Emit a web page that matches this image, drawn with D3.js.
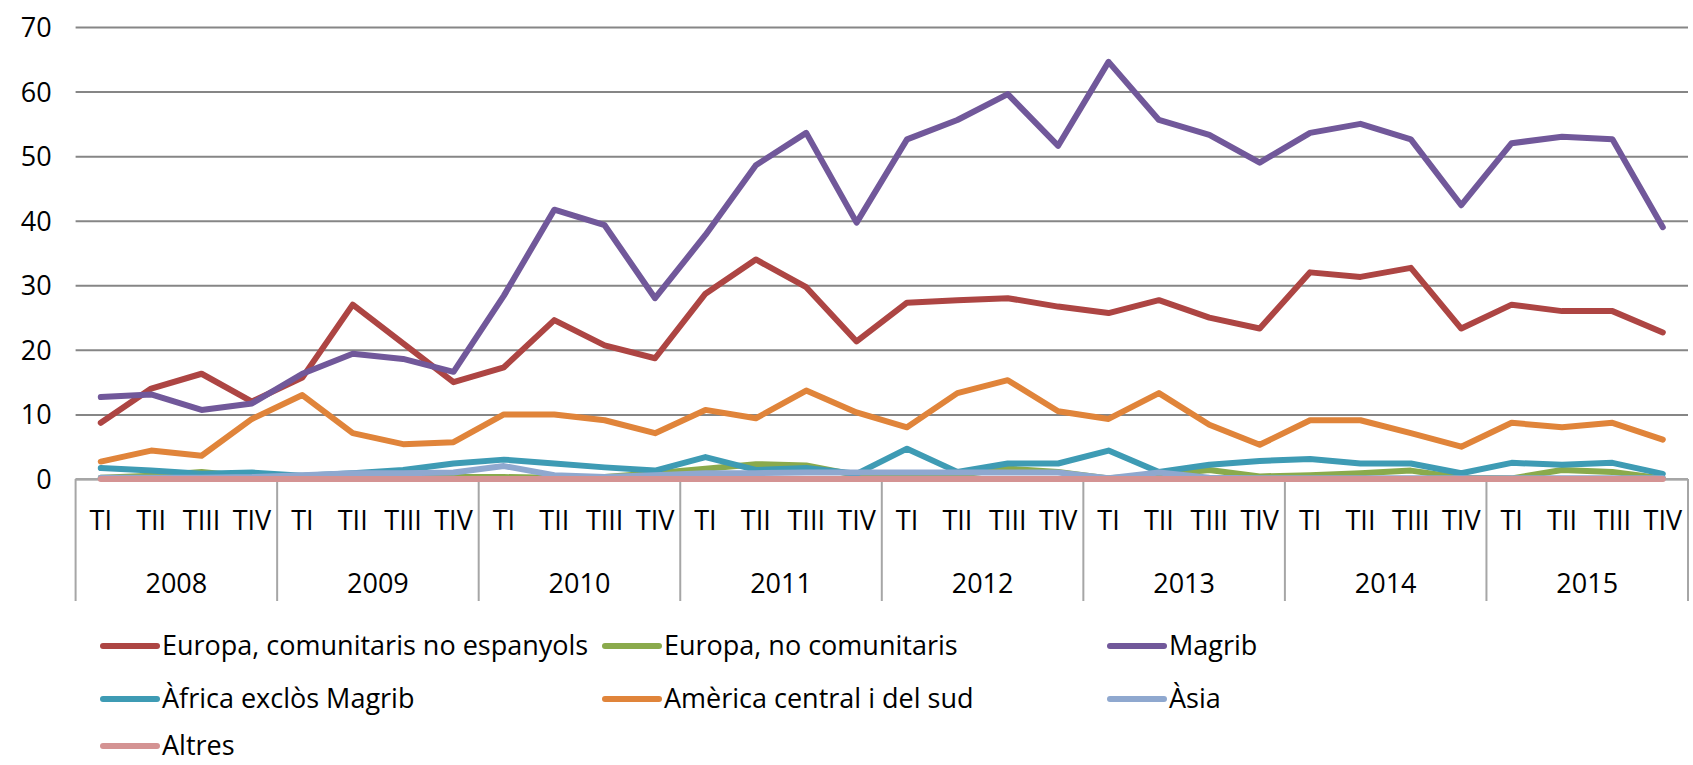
<!DOCTYPE html>
<html>
<head>
<meta charset="utf-8">
<script src="https://cdn.jsdelivr.net/npm/d3@7"></script>
<style>
  body { margin: 0; background: #fff; }
  text { font-family: "Open Sans", sans-serif; fill: #000; }
</style>
</head>
<body>
<div id="chart"></div>
<script>

// categories
var years = ["2008", "2009", "2010", "2011", "2012", "2013", "2014", "2015"];
var quarters = ["TI", "TII", "TIII", "TIV"];
var yTicks = [0, 10, 20, 30, 40, 50, 60, 70];

// series values (one per quarter, 2008 TI .. 2015 TIV)
var europaComunitaris = [8.7, 14.0, 16.3, 12.0, 15.7, 27.0, 21.0, 15.0, 17.3, 24.6, 20.7, 18.7, 28.7, 34.0, 29.7, 21.3,
                         27.3, 27.7, 28.0, 26.7, 25.7, 27.7, 25.0, 23.3, 32.0, 31.3, 32.7, 23.3, 27.0, 26.0, 26.0, 22.7];
var europaNoComunitaris = [0.2, 0.5, 1.1, 0.3, 0.3, 0.3, 0.3, 0.3, 0.3, 0.2, 0.3, 0.9, 1.6, 2.3, 2.1, 0.6,
                           0.3, 0.6, 1.6, 1.1, 0.1, 0.6, 1.4, 0.4, 0.6, 0.9, 1.3, 0.2, 0.1, 1.4, 1.1, 0.1];
var magrib = [12.7, 13.1, 10.7, 11.7, 16.3, 19.4, 18.6, 16.6, 28.4, 41.7, 39.3, 28.0, 37.8, 48.6, 53.6, 39.7,
              52.6, 55.6, 59.6, 51.6, 64.6, 55.6, 53.3, 49.0, 53.6, 55.0, 52.6, 42.4, 52.0, 53.0, 52.6, 39.0];
var africa = [1.7, 1.3, 0.8, 1.0, 0.5, 0.9, 1.4, 2.4, 3.0, 2.4, 1.8, 1.3, 3.4, 1.4, 1.7, 0.8,
              4.7, 1.1, 2.4, 2.4, 4.4, 1.1, 2.2, 2.8, 3.1, 2.4, 2.4, 0.9, 2.5, 2.2, 2.5, 0.8];
var america = [2.7, 4.4, 3.6, 9.3, 13.0, 7.1, 5.4, 5.7, 10.0, 10.0, 9.1, 7.1, 10.7, 9.4, 13.7, 10.3,
               8.0, 13.3, 15.3, 10.5, 9.3, 13.3, 8.4, 5.3, 9.1, 9.1, 7.1, 5.0, 8.7, 8.0, 8.7, 6.1];
var asia = [0.2, 0.2, 0.2, 0.3, 0.6, 0.9, 0.9, 1.0, 2.0, 0.6, 0.3, 0.6, 0.9, 0.9, 1.0, 1.0,
            1.0, 1.0, 1.0, 1.0, 0.1, 1.0, 0.2, 0.1, 0.1, 0.1, 0.1, 0.1, 0.1, 0.1, 0.1, 0.1];
var altres = [0, 0, 0, 0, 0, 0, 0, 0, 0, 0, 0, 0, 0, 0, 0, 0,
              0, 0, 0, 0, 0, 0, 0, 0, 0, 0, 0, 0, 0, 0, 0, 0];

var seriesNames = ["Europa, comunitaris no espanyols", "Europa, no comunitaris", "Magrib",
                   "Àfrica exclòs Magrib", "Amèrica central i del sud", "Àsia", "Altres"];
var seriesValues = [europaComunitaris, europaNoComunitaris, magrib, africa, america, asia, altres];
var seriesColors = ["#AD4543", "#8AAA4C", "#71589A", "#3E9BB4", "#E0843A", "#8FA8CF", "#D49393"];

var width = 1693, height = 765;
var margin = {left: 75.6, right: 5, top: 27, bottom: 286};

// build category keys
var cats = [];
years.forEach(function(y) {
  quarters.forEach(function(q) { cats.push(y + "|" + q); });
});

var svg = d3.select("#chart").append("svg")
  .attr("width", width)
  .attr("height", height);

var xScale = d3.scaleBand().domain(cats).range([margin.left, width - margin.right]);
var xYear = d3.scaleBand().domain(years).range([margin.left, width - margin.right]);
var yScale = d3.scaleLinear().domain([0, 70]).range([479, 27]);

// gridlines + y labels
var yAxis = d3.axisLeft(yScale).tickValues(yTicks).tickSize(-(width - margin.right - margin.left)).tickPadding(24);
var gy = svg.append("g").attr("transform", "translate(" + margin.left + ",0)").call(yAxis);
gy.select(".domain").remove();
gy.selectAll(".tick line").attr("stroke", "#868686").attr("stroke-width", 2);
gy.selectAll(".tick text").style("font-size", "27px").attr("dy", "0.35em");

// x axis: line along 0, year dividers
var axisY = yScale(0);
var axisBottom = 601;
svg.append("line")
  .attr("x1", margin.left).attr("x2", width - margin.right)
  .attr("y1", axisY).attr("y2", axisY)
  .attr("stroke", "#A6A6A6").attr("stroke-width", 2);

var dividers = years.map(function(y) { return xYear(y); }).concat([xYear.range()[1]]);
svg.selectAll(".divider").data(dividers).enter().append("line")
  .attr("class", "divider")
  .attr("x1", function(d) { return d; }).attr("x2", function(d) { return d; })
  .attr("y1", axisY).attr("y2", axisBottom)
  .attr("stroke", "#A6A6A6").attr("stroke-width", 2);

svg.selectAll(".qlabel").data(cats).enter().append("text")
  .attr("class", "qlabel")
  .attr("x", function(d) { return xScale(d) + xScale.bandwidth() / 2; })
  .attr("y", 521)
  .attr("dy", "0.35em")
  .attr("text-anchor", "middle")
  .style("font-size", "27px")
  .text(function(d) { return d.split("|")[1]; });

svg.selectAll(".ylabel").data(years).enter().append("text")
  .attr("class", "ylabel")
  .attr("x", function(d) { return xYear(d) + xYear.bandwidth() / 2; })
  .attr("y", 584)
  .attr("dy", "0.35em")
  .attr("text-anchor", "middle")
  .style("font-size", "27px")
  .text(function(d) { return d; });

// lines
var line = d3.line()
  .x(function(d, i) { return xScale(cats[i]) + xScale.bandwidth() / 2; })
  .y(function(d) { return yScale(d); });

svg.selectAll(".series").data(seriesValues).enter().append("path")
  .attr("class", "series")
  .attr("d", function(d) { return line(d); })
  .attr("fill", "none")
  .attr("stroke", function(d, i) { return seriesColors[i]; })
  .attr("stroke-width", 6)
  .attr("stroke-linejoin", "round")
  .attr("stroke-linecap", "round");

// legend
var legendCols = [103, 605, 1110];
var legendRows = [646, 699, 746];
var legend = svg.selectAll(".legend").data(seriesNames).enter().append("g")
  .attr("class", "legend")
  .attr("transform", function(d, i) {
    return "translate(" + legendCols[i % 3] + "," + legendRows[Math.floor(i / 3)] + ")";
  });
legend.append("line")
  .attr("x1", 0).attr("x2", 54).attr("y1", 0).attr("y2", 0)
  .attr("stroke", function(d, i) { return seriesColors[i]; })
  .attr("stroke-width", 6)
  .attr("stroke-linecap", "round");
legend.append("text")
  .attr("x", 59).attr("y", 0).attr("dy", "0.35em")
  .style("font-size", "27px")
  .text(function(d) { return d; });

</script>
</body>
</html>
